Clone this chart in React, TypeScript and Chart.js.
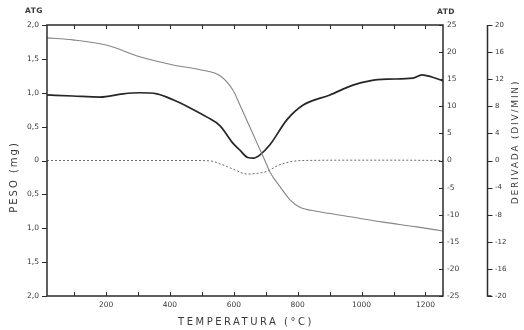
import React, { useEffect, useRef } from 'react';
import { Chart, registerables } from 'chart.js';

Chart.register(...registerables);

// ---- data ----
const tgTemp = [15, 96, 203, 306, 410, 494, 557, 597, 619, 641, 660, 682, 701, 713, 745, 776, 807, 860, 964, 1067, 1173, 1255];
const tgMass = [1.81, 1.78, 1.70, 1.53, 1.41, 1.34, 1.25, 1.04, 0.82, 0.59, 0.39, 0.16, -0.04, -0.17, -0.39, -0.58, -0.69, -0.75, -0.83, -0.91, -0.98, -1.04];

const dtaTemp = [15, 96, 181, 253, 306, 359, 410, 463, 516, 557, 597, 619, 644, 662, 681, 713, 766, 816, 901, 973, 1026, 1080, 1161, 1189, 1220, 1255];
const dtaValue = [12.1, 11.9, 11.7, 12.3, 12.5, 12.3, 11.2, 9.7, 8.0, 6.4, 3.2, 1.9, 0.55, 0.45, 1.0, 2.9, 7.5, 10.2, 12.1, 13.9, 14.7, 15.0, 15.2, 15.8, 15.4, 14.7];

const dtgTemp = [15, 181, 338, 463, 525, 557, 579, 604, 641, 673, 707, 735, 776, 816, 1000, 1100, 1255];
const dtgValue = [0, 0, 0, 0, -0.05, -0.5, -0.9, -1.4, -2.0, -1.9, -1.55, -0.8, -0.2, 0, 0.05, 0.05, 0];

const xTickValues = [100, 200, 300, 400, 500, 600, 700, 800, 900, 1000, 1100, 1200];
const xLabelValues = [200, 400, 600, 800, 1000, 1200];
const massTicks = [-2, -1.5, -1, -0.5, 0, 0.5, 1, 1.5, 2];
const atdTicks = [-25, -20, -15, -10, -5, 0, 5, 10, 15, 20, 25];
const derivTicks = [-20, -16, -12, -8, -4, 0, 4, 8, 12, 16, 20];

const xTitle = 'TEMPERATURA (°C)';
const leftTitle = 'PESO (mg)';
const rightTitle = 'DERIVADA (DIV/MIN)';
const leftTag = 'ATG';
const rightTag = 'ATD';

const FONT = "'DejaVu Sans', 'Liberation Sans', sans-serif";
const INK = '#2b2b2b';
const LABEL = '#3a3a3a';

const framePlugin = {
  id: 'frameTicks',
  afterDraw(chart: any) {
    const { ctx, chartArea: a, scales } = chart;
    ctx.save();
    ctx.strokeStyle = INK;
    ctx.lineWidth = 1.5;
    ctx.strokeRect(a.left, a.top, a.right - a.left, a.bottom - a.top);

    ctx.lineWidth = 1;
    ctx.beginPath();
    const xs = scales.x;
    xTickValues.forEach((v) => {
      const p = Math.round(xs.getPixelForValue(v)) + 0.5;
      ctx.moveTo(p, a.bottom);
      ctx.lineTo(p, a.bottom - 4);
      ctx.moveTo(p, a.top);
      ctx.lineTo(p, a.top + 4);
    });
    const yl = scales.yMass;
    massTicks.forEach((v) => {
      const p = Math.round(yl.getPixelForValue(v)) + 0.5;
      ctx.moveTo(a.left - 5, p);
      ctx.lineTo(a.left, p);
    });
    const yd = scales.yAtd;
    atdTicks.forEach((v) => {
      const p = Math.round(yd.getPixelForValue(v)) + 0.5;
      ctx.moveTo(a.right - 4, p);
      ctx.lineTo(a.right, p);
    });
    const yv = scales.yDer;
    const lx = Math.round(yv.left) + 0.5;
    derivTicks.forEach((v) => {
      const p = Math.round(yv.getPixelForValue(v)) + 0.5;
      ctx.moveTo(lx, p);
      ctx.lineTo(lx + 5, p);
    });
    ctx.stroke();

    ctx.lineWidth = 1.5;
    ctx.beginPath();
    ctx.moveTo(lx, yv.top);
    ctx.lineTo(lx, yv.bottom);
    ctx.lineTo(lx + 4, yv.bottom);
    ctx.stroke();

    // texts
    ctx.fillStyle = LABEL;
    ctx.textBaseline = 'middle';
    ctx.textAlign = 'center';
    ctx.font = `10px ${FONT}`;
    (ctx as any).letterSpacing = '2.5px';
    ctx.fillText(xTitle, (a.left + a.right) / 2 + 1, 322);

    ctx.save();
    ctx.translate(14, 177);
    ctx.rotate(-Math.PI / 2);
    (ctx as any).letterSpacing = '2px';
    ctx.fillText(leftTitle, 0, 0);
    ctx.restore();

    ctx.save();
    ctx.translate(516, 142);
    ctx.rotate(-Math.PI / 2);
    (ctx as any).letterSpacing = '1.8px';
    ctx.font = `9px ${FONT}`;
    ctx.fillText(rightTitle, 0, 0);
    ctx.restore();

    (ctx as any).letterSpacing = '0.5px';
    ctx.font = `bold 7.5px ${FONT}`;
    ctx.fillText(leftTag, 34, 11);
    ctx.fillText(rightTag, 446, 12);
    ctx.restore();
  },
};

function commaLabel(v: number) {
  const a = Math.abs(v);
  if (a === 0) return '0';
  return a.toFixed(1).replace('.', ',');
}

export default function App() {
  const ref = useRef<HTMLCanvasElement>(null);

  useEffect(() => {
    const canvas = ref.current;
    if (!canvas) return;
    const tickFont = { family: FONT, size: 7.5 };
    const chart = new Chart(canvas, {
      type: 'line',
      data: {
        datasets: [
          {
            label: 'ATG',
            data: tgTemp.map((t, i) => ({ x: t, y: tgMass[i] })),
            yAxisID: 'yMass',
            borderColor: '#858585',
            borderWidth: 1.1,
            pointRadius: 0,
            cubicInterpolationMode: 'monotone',
            fill: false,
          },
          {
            label: 'ATD',
            data: dtaTemp.map((t, i) => ({ x: t, y: dtaValue[i] })),
            yAxisID: 'yAtd',
            borderColor: '#262626',
            borderWidth: 1.7,
            pointRadius: 0,
            cubicInterpolationMode: 'monotone',
            fill: false,
          },
          {
            label: 'DTG',
            data: dtgTemp.map((t, i) => ({ x: t, y: dtgValue[i] })),
            yAxisID: 'yDer',
            borderColor: '#6a6a6a',
            borderWidth: 1,
            borderDash: [2, 2],
            pointRadius: 0,
            cubicInterpolationMode: 'monotone',
            fill: false,
          },
        ],
      },
      options: {
        responsive: false,
        animation: false,
        events: [],
        layout: { padding: { top: 25, left: 0, right: 0, bottom: 0 } },
        plugins: { legend: { display: false }, tooltip: { enabled: false }, title: { display: false } },
        scales: {
          x: {
            type: 'linear',
            position: 'bottom',
            min: 15,
            max: 1255,
            afterBuildTicks: (s: any) => {
              s.ticks = xTickValues.map((v) => ({ value: v }));
            },
            afterFit: (s: any) => {
              s.height = 34;
            },
            grid: { display: false, drawTicks: false },
            border: { display: false },
            ticks: {
              autoSkip: false,
              maxRotation: 0,
              padding: 5,
              color: LABEL,
              font: tickFont,
              callback: (v: any) => (xLabelValues.includes(Number(v)) ? String(v) : ''),
            },
          },
          yMass: {
            type: 'linear',
            position: 'left',
            min: -2,
            max: 2,
            afterBuildTicks: (s: any) => {
              s.ticks = massTicks.map((v) => ({ value: v }));
            },
            afterFit: (s: any) => {
              s.width = 47;
            },
            grid: { display: false, drawTicks: false },
            border: { display: false },
            ticks: { padding: 8, color: LABEL, font: tickFont, callback: (v: any) => commaLabel(Number(v)) },
          },
          yAtd: {
            type: 'linear',
            position: 'right',
            weight: 0,
            min: -25,
            max: 25,
            afterBuildTicks: (s: any) => {
              s.ticks = atdTicks.map((v) => ({ value: v }));
            },
            afterFit: (s: any) => {
              s.width = 44;
            },
            grid: { display: false, drawTicks: false },
            border: { display: false },
            ticks: { padding: 4, color: LABEL, font: tickFont, callback: (v: any) => String(v) },
          },
          yDer: {
            type: 'linear',
            position: 'right',
            weight: 1,
            min: -20,
            max: 20,
            afterBuildTicks: (s: any) => {
              s.ticks = derivTicks.map((v) => ({ value: v }));
            },
            afterFit: (s: any) => {
              s.width = 37;
            },
            grid: { display: false, drawTicks: false },
            border: { display: false },
            ticks: { padding: 8, color: LABEL, font: { family: FONT, size: 7 }, callback: (v: any) => String(v) },
          },
        },
      },
      plugins: [framePlugin],
    } as any);
    return () => chart.destroy();
  }, []);

  return (
    <div style={{ position: 'fixed', left: 0, top: 0, width: 524, height: 330, background: '#fff' }}>
      <canvas ref={ref} width={524} height={330} style={{ width: 524, height: 330, display: 'block' }} />
    </div>
  );
}
